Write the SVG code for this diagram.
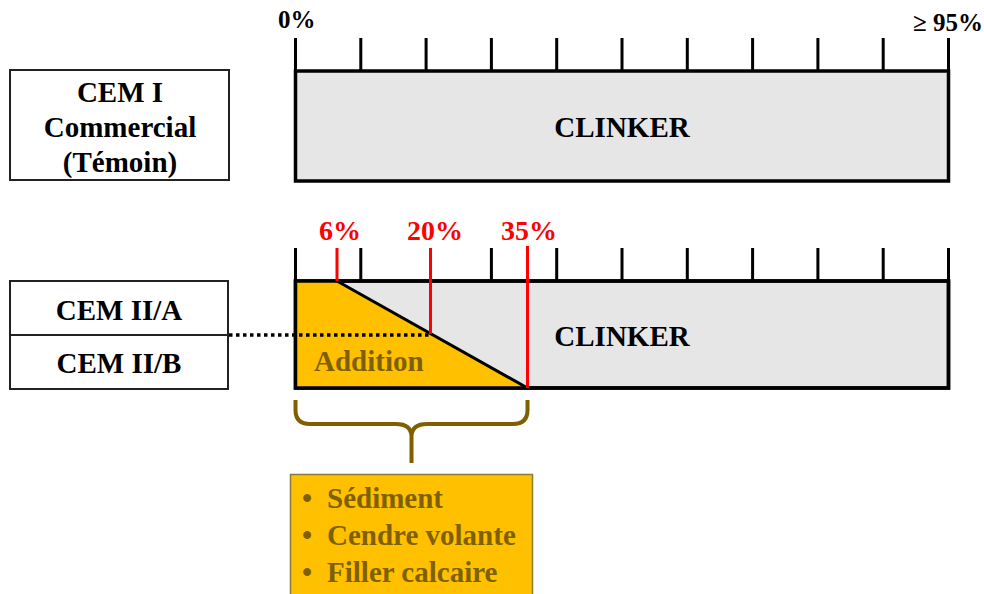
<svg xmlns="http://www.w3.org/2000/svg" width="984" height="594" viewBox="0 0 984 594">
<style>
text{font-family:"Liberation Serif","Times New Roman",serif;font-weight:bold}
.lbl{font-size:29px;fill:#000;text-anchor:middle}
.pct{font-size:25px;fill:#000}
.red{font-size:28px;fill:#FF0000;text-anchor:middle}
.brown{font-size:29px;fill:#7F6000}
.box{fill:#fff;stroke:#222;stroke-width:2}
.bar{fill:#E6E6E6;stroke:#000;stroke-width:3.5}
.tick{stroke:#000;stroke-width:3}
.rtick{stroke:#FF0000;stroke-width:3}
</style>
<rect width="984" height="594" fill="#fff"/>
<g id="scale-top">
<text class="pct" x="278" y="28">0%</text>
<text class="pct" x="983" y="31" text-anchor="end">≥ 95%</text>
<path class="tick" d="M295.5 38V71M360.8 38V71M426.1 38V71M491.4 38V71M556.7 38V71M622 38V71M687.3 38V71M752.6 38V71M817.9 38V71M883.2 38V71M948.5 38V71"/>
</g>
<g id="cem1-label">
<rect class="box" x="10" y="70" width="219" height="110"/>
<text class="lbl" x="120" y="102">CEM I</text>
<text class="lbl" x="120" y="137">Commercial</text>
<text class="lbl" x="120" y="172">(Témoin)</text>
</g>
<g id="cem1-bar">
<rect class="bar" x="295.5" y="71" width="653" height="110"/>
<text class="lbl" x="622" y="137">CLINKER</text>
</g>
<g id="scale-bottom">
<path class="tick" d="M295.5 248V281M360.8 248V281M491.4 248V281M556.7 248V281M622 248V281M687.3 248V281M752.6 248V281M817.9 248V281M883.2 248V281M948.5 248V281"/>
</g>
<g id="cem2-labels">
<rect class="box" x="10" y="281" width="218" height="54"/>
<rect class="box" x="10" y="335" width="218" height="54"/>
<text class="lbl" x="119" y="320">CEM II/A</text>
<text class="lbl" x="119" y="373">CEM II/B</text>
</g>
<g id="cem2-bar">
<rect class="bar" x="295.5" y="281" width="653" height="107"/>
<polygon points="295.5,281 337,281 527.5,388 295.5,388" fill="#FFC000"/>
<rect x="295.5" y="281" width="653" height="107" fill="none" stroke="#000" stroke-width="3.5"/>
<line x1="337" y1="281" x2="527.5" y2="388" stroke="#000" stroke-width="3"/>
<text class="brown" x="314" y="371">Addition</text>
<text class="lbl" x="622" y="346">CLINKER</text>
</g>
<g id="connectors">
<line x1="229" y1="335" x2="430" y2="335" stroke="#000" stroke-width="3.5" stroke-dasharray="3.5,3.5"/>
</g>
<g id="markers">
<line class="rtick" x1="337" y1="248" x2="337" y2="281"/>
<line class="rtick" x1="430.5" y1="248" x2="430.5" y2="334"/>
<line class="rtick" x1="527.5" y1="246" x2="527.5" y2="388"/>
<text class="red" x="340" y="240">6%</text>
<text class="red" x="435" y="240">20%</text>
<text class="red" x="529" y="240">35%</text>
</g>
<g id="brace">
<path d="M295.5 400V410Q295.5 424 310 424H396Q411 424 411.5 436V463M411.5 436Q412 424 427 424H513Q527.5 424 527.5 410V400" fill="none" stroke="#7F6000" stroke-width="4"/>
</g>
<g id="additions-box">
<rect x="290.5" y="474.5" width="242" height="122" fill="#FFC000" stroke="#8C7A3A" stroke-width="1.5"/>
<text class="brown" x="302" y="508">•</text>
<text class="brown" x="327" y="508">Sédiment</text>
<text class="brown" x="302" y="545">•</text>
<text class="brown" x="327" y="545">Cendre volante</text>
<text class="brown" x="302" y="582">•</text>
<text class="brown" x="327" y="582">Filler calcaire</text>
</g>
</svg>
